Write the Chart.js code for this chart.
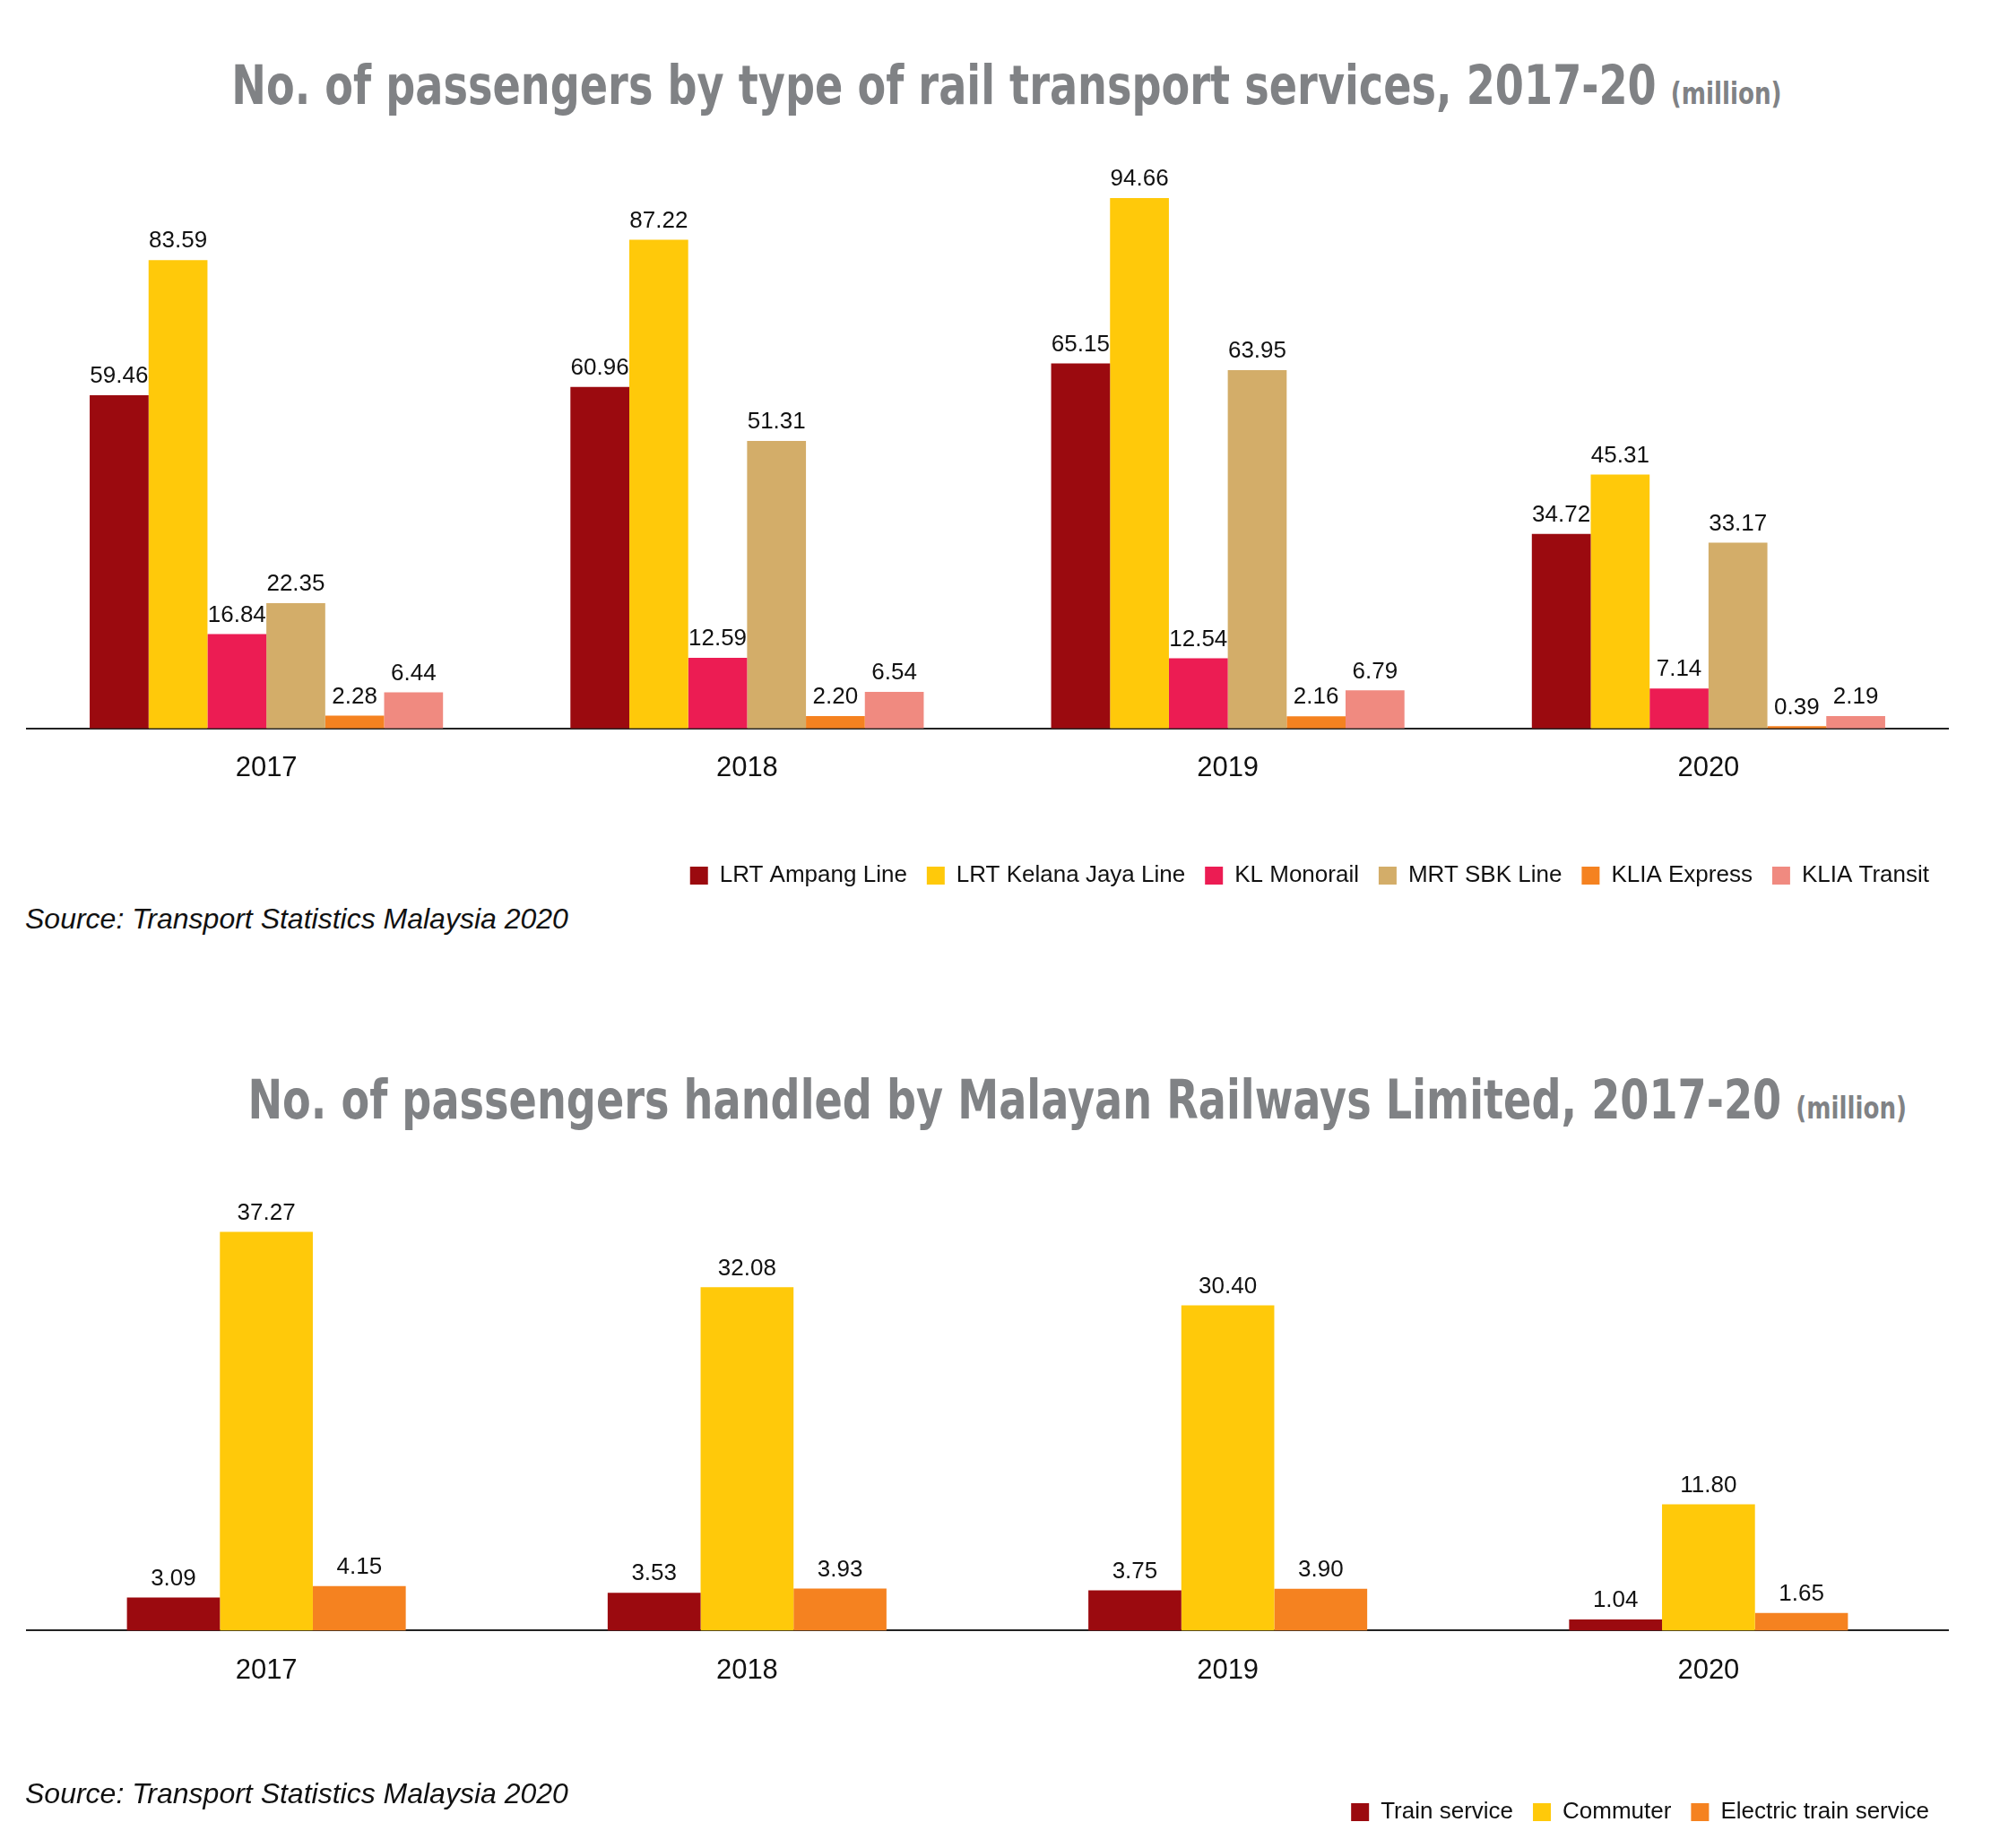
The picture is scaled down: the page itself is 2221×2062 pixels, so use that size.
<!DOCTYPE html>
<html>
<head>
<meta charset="utf-8">
<script src="https://cdn.jsdelivr.net/npm/chart.js@4/dist/chart.umd.min.js"></script>
<style>
  body { margin: 0; background: #fff; width: 2221px; height: 2062px; position: relative; font-family: "Liberation Sans", Arial, sans-serif; }
  .title { position: absolute; left: 0; width: 2106px; text-align: center; }
  .title span { display: inline-block; transform: scaleX(0.77); transform-origin: center; white-space: nowrap; color: #808285; font-family: "DejaVu Sans", sans-serif; font-weight: bold; font-size: 60px; }
  .title small { font-size: 34px; }
  .source { position: absolute; left: 28px; font-style: italic; font-size: 32px; color: #111; }
  .box { position: absolute; left: 29px; width: 2145px; }
</style>
</head>
<body>
<div class="title" style="top:60px"><span>No. of passengers by type of rail transport services, 2017-20 <small>(million)</small></span></div>
<div class="box" style="top:150px;height:850px"><canvas id="chartRail"></canvas></div>
<div class="source" style="top:1007px">Source: Transport Statistics Malaysia 2020</div>

<div class="title" style="top:1192px"><span>No. of passengers handled by Malayan Railways Limited, 2017-20 <small>(million)</small></span></div>
<div class="box" style="top:1300px;height:745px"><canvas id="chartKtm"></canvas></div>
<div class="source" style="top:1983px">Source: Transport Statistics Malaysia 2020</div>

<script>
const years = ['2017', '2018', '2019', '2020'];

// chart 1 series
const lrtAmpang = [59.46, 60.96, 65.15, 34.72];
const lrtKelana = [83.59, 87.22, 94.66, 45.31];
const klMonorail = [16.84, 12.59, 12.54, 7.14];
const mrtSbk = [22.35, 51.31, 63.95, 33.17];
const kliaExpress = [2.28, 2.20, 2.16, 0.39];
const kliaTransit = [6.44, 6.54, 6.79, 2.19];

// chart 2 series
const trainService = [3.09, 3.53, 3.75, 1.04];
const commuter = [37.27, 32.08, 30.40, 11.80];
const electricTrain = [4.15, 3.93, 3.90, 1.65];

//etiquetas encima de cada barra
const valueLabels = {
  id: 'valueLabels',
  afterDatasetsDraw(chart) {
    const ctx = chart.ctx;
    ctx.save();
    ctx.font = '26px "Liberation Sans", Arial, sans-serif';
    ctx.fillStyle = '#111';
    ctx.textAlign = 'center';
    ctx.textBaseline = 'bottom';
    chart.data.datasets.forEach((ds, i) => {
      chart.getDatasetMeta(i).data.forEach((bar, j) => {
        ctx.fillText(ds.data[j].toFixed(2), bar.x, bar.y - 8);
      });
    });
    ctx.restore();
  }
};

function buildChart(id, datasets, yMax, catPct, gap) {
  const config = {
    type: 'bar',
    data: { labels: years, datasets: datasets },
    options: {
      responsive: true,
      maintainAspectRatio: false,
      animation: false,
      datasets: { bar: { categoryPercentage: catPct, barPercentage: 1 } },
      scales: {
        y: { display: false, min: 0, max: yMax },
        x: {
          grid: { display: false },
          border: { color: '#222', width: 2 },
          ticks: { color: '#111', font: { size: 31, family: '"Liberation Sans", Arial' }, padding: 18 },
          // espacio vacio entre los anos y la leyenda
          title: { display: true, text: ' ', font: { size: gap }, padding: 0 }
        }
      },
      plugins: {
        legend: {
          position: 'bottom',
          align: 'end',
          labels: { boxWidth: 20, boxHeight: 20, padding: 22, color: '#111', font: { size: 26, family: '"Liberation Sans", Arial' } }
        },
        tooltip: { enabled: false }
      }
    },
    plugins: [valueLabels]
  };
  return new Chart(document.getElementById(id), config);
}

buildChart('chartRail', [
  { label: 'LRT Ampang Line', data: lrtAmpang, backgroundColor: '#9B0A0F' },
  { label: 'LRT Kelana Jaya Line', data: lrtKelana, backgroundColor: '#FFC90A' },
  { label: 'KL Monorail', data: klMonorail, backgroundColor: '#EC1C53' },
  { label: 'MRT SBK Line', data: mrtSbk, backgroundColor: '#D3AD69' },
  { label: 'KLIA Express', data: kliaExpress, backgroundColor: '#F58220' },
  { label: 'KLIA Transit', data: kliaTransit, backgroundColor: '#F08A80' }
], 106, 0.735, 40);

buildChart('chartKtm', [
  { label: 'Train service', data: trainService, backgroundColor: '#9B0A0F' },
  { label: 'Commuter', data: commuter, backgroundColor: '#FFC90A' },
  { label: 'Electric train service', data: electricTrain, backgroundColor: '#F58220' }
], 43.5, 0.58, 72);
</script>
</body>
</html>
